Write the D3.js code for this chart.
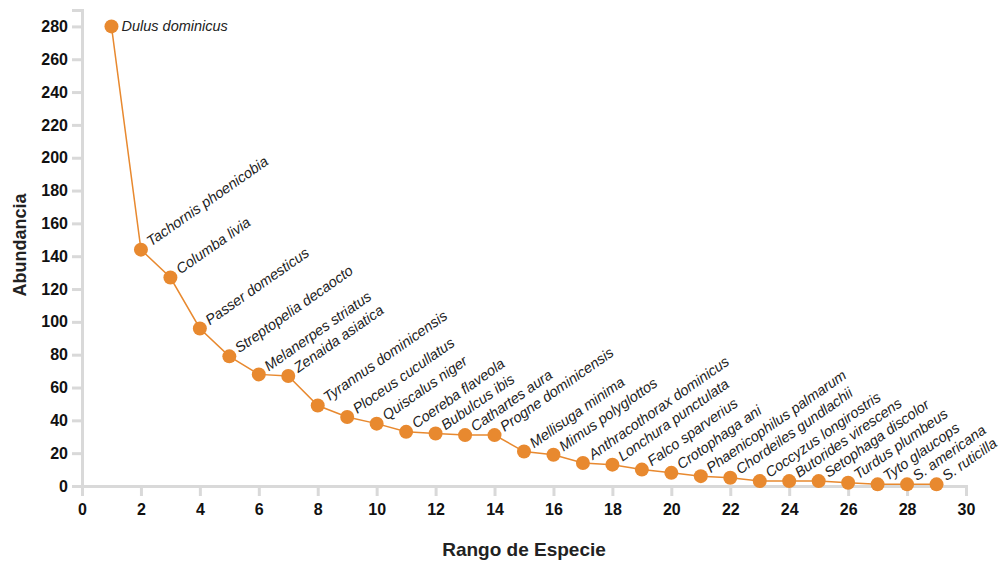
<!DOCTYPE html>
<html><head><meta charset="utf-8">
<script src="https://cdn.jsdelivr.net/npm/d3@7"></script>
<style>
body{margin:0;background:#fff;}
svg{display:block;}
</style></head>
<body>
<svg id="chart" width="1001" height="564"></svg>
<script>
const ranks = [1,2,3,4,5,6,7,8,9,10,11,12,13,14,15,16,17,18,19,20,21,22,23,24,25,26,27,28,29];
const species = ["Dulus dominicus","Tachornis phoenicobia","Columba livia","Passer domesticus","Streptopelia decaocto","Melanerpes striatus","Zenaida asiatica","Tyrannus dominicensis","Ploceus cucullatus","Quiscalus niger","Coereba flaveola","Bubulcus ibis","Cathartes aura","Progne dominicensis","Mellisuga minima","Mimus polyglottos","Anthracothorax dominicus","Lonchura punctulata","Falco sparverius","Crotophaga ani","Phaenicophilus palmarum","Chordeiles gundlachii","Coccyzus longirostris","Butorides virescens","Setophaga discolor","Turdus plumbeus","Tyto glaucops","S. americana","S. ruticilla"];
const abundance = [280,144,127,96,79,68,67,49,42,38,33,32,31,31,21,19,14,13,10,8,6,5,3,3,3,2,1,1,1];
const xTicks = [0,2,4,6,8,10,12,14,16,18,20,22,24,26,28,30];
const yTicks = [0,20,40,60,80,100,120,140,160,180,200,220,240,260,280];

(function(){
const svg = d3.select("#chart");
const mLeft = 82, mRight = 966, mTop = 10, mBottom = 486;
const x = d3.scaleLinear().domain([0,30]).range([mLeft,mRight]);
const y = d3.scaleLinear().domain([0,290]).range([mBottom,mTop]);
const orange = "#e8892f";
const axisColor = "#d9d9d9";
const tickFont = "'Liberation Sans',Arial,sans-serif";

const gx = svg.append("g").attr("transform",`translate(0,${mBottom})`)
  .call(d3.axisBottom(x).tickValues(xTicks).tickSize(10).tickPadding(8).tickFormat(d3.format("d")));
const gy = svg.append("g").attr("transform",`translate(${mLeft},0)`)
  .call(d3.axisLeft(y).tickValues(yTicks).tickSize(10).tickPadding(4).tickFormat(d3.format("d")));
[gx,gy].forEach(g=>{
  g.select(".domain").attr("stroke",axisColor).attr("stroke-width",3);
  g.selectAll(".tick line").attr("stroke",axisColor).attr("stroke-width",3);
  g.selectAll(".tick text").attr("fill","#111").style("font-family",tickFont)
    .style("font-size","16px").style("font-weight","bold");
});

const data = ranks.map((r,i)=>({r, v:abundance[i], name:species[i]}));
svg.append("path").datum(data)
  .attr("fill","none").attr("stroke",orange).attr("stroke-width",1.5)
  .attr("d", d3.line().x(d=>x(d.r)).y(d=>y(d.v)));

svg.selectAll("circle.pt").data(data).join("circle")
  .attr("class","pt").attr("cx",d=>x(d.r)).attr("cy",d=>y(d.v)).attr("r",7)
  .attr("fill",orange);

svg.selectAll("text.lbl").data(data).join("text")
  .attr("class","lbl")
  .attr("transform",(d,i)=> i===0
     ? `translate(${x(d.r)+10},${y(d.v)+5})`
     : `translate(${x(d.r)+10},${y(d.v)-3}) rotate(-35)`)
  .style("font-family","'Liberation Sans',Arial,sans-serif")
  .style("font-style","italic")
  .style("font-size","14.5px")
  .attr("fill","#222")
  .text(d=>d.name);

svg.append("text").attr("x",(mLeft+mRight)/2).attr("y",556).attr("text-anchor","middle")
  .style("font-family",tickFont).style("font-weight","bold").style("font-size","19px")
  .attr("fill","#222").text("Rango de Especie");
svg.append("text").attr("transform",`translate(26,245) rotate(-90)`)
  .attr("text-anchor","middle")
  .style("font-family",tickFont).style("font-weight","bold").style("font-size","18px")
  .attr("fill","#222").text("Abundancia");
})();
</script>
</body></html>
